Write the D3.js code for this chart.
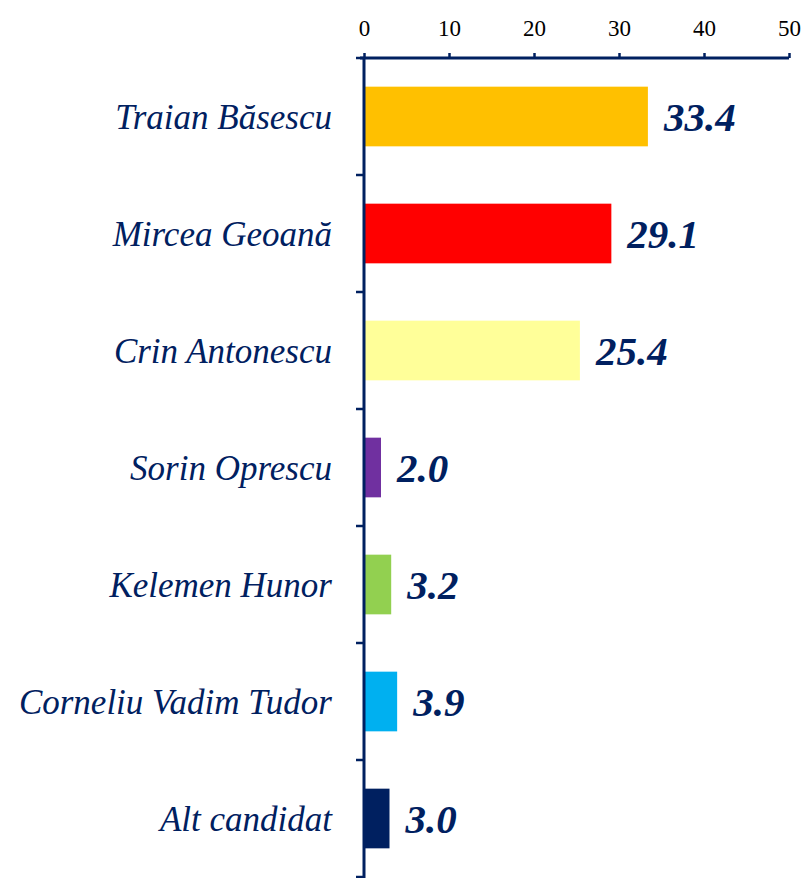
<!DOCTYPE html>
<html>
<head>
<meta charset="utf-8">
<script src="https://cdn.jsdelivr.net/npm/d3@7"></script>
<style>
  html, body { margin: 0; padding: 0; background: #fff; }
  svg { display: block; }
</style>
</head>
<body>
<svg id="chart" width="806" height="878"></svg>
<script>
// Candidates, their shares (%) and bar colours
const candidates = ["Traian Băsescu", "Mircea Geoană", "Crin Antonescu", "Sorin Oprescu", "Kelemen Hunor", "Corneliu Vadim Tudor", "Alt candidat"];
const shares = [33.4, 29.1, 25.4, 2.0, 3.2, 3.9, 3.0];
const barColors = ["#FFC000", "#FF0000", "#FFFF99", "#7030A0", "#92D050", "#00B0F0", "#002060"];
const tickValues = [0, 10, 20, 30, 40, 50];

const navy = "#002060";
const fontFamily = "'Liberation Serif', 'DejaVu Serif', serif";

const svg = d3.select("#chart");
const margin = { top: 58, left: 364, right: 17, bottom: 1 };
const width = 806, height = 878;

const x = d3.scaleLinear().domain([0, 50]).range([margin.left, width - margin.right]);
const y = d3.scaleBand().domain(candidates).range([margin.top, height - margin.bottom]).paddingInner(0.49).paddingOuter(0.245);

const rows = candidates.map((c, i) => ({ name: c, value: shares[i], color: barColors[i] }));

// Bars
svg.append("g").selectAll("rect").data(rows).join("rect")
  .attr("x", x(0))
  .attr("y", d => y(d.name))
  .attr("width", d => x(d.value) - x(0))
  .attr("height", y.bandwidth())
  .attr("fill", d => d.color);

// Top value axis
const xAxis = svg.append("g")
  .attr("transform", `translate(0,${margin.top})`)
  .call(d3.axisTop(x).tickValues(tickValues).tickSize(5).tickPadding(17).tickFormat(d3.format("d")));
xAxis.select(".domain").attr("stroke", navy).attr("stroke-width", 3).attr("d", `M${x(0) - 4},0H${x(50)}`);
xAxis.selectAll(".tick line").attr("stroke", navy).attr("stroke-width", 2.5);
xAxis.selectAll(".tick text").attr("fill", "#000").style("font-family", fontFamily).style("font-size", "23px");

// Category axis (band edges marked with ticks)
const yAxis = svg.append("g").attr("transform", `translate(${x(0)},0)`);
yAxis.append("line")
  .attr("x1", 0).attr("x2", 0)
  .attr("y1", margin.top).attr("y2", height)
  .attr("stroke", navy).attr("stroke-width", 3);
const edges = d3.range(candidates.length + 1).map(i => margin.top + i * (height - margin.bottom - margin.top) / candidates.length);
yAxis.selectAll("line.edge").data(edges).join("line")
  .attr("class", "edge")
  .attr("x1", -8).attr("x2", 0)
  .attr("y1", d => d).attr("y2", d => d)
  .attr("stroke", navy).attr("stroke-width", 2.5);

// Category labels
svg.append("g").selectAll("text").data(rows).join("text")
  .attr("x", x(0) - 32)
  .attr("y", d => y(d.name) + y.bandwidth() / 2)
  .attr("dy", "0.35em")
  .attr("text-anchor", "end")
  .attr("fill", navy)
  .style("font-family", fontFamily)
  .style("font-style", "italic")
  .style("font-size", "35px")
  .text(d => d.name);

// Value labels
svg.append("g").selectAll("text").data(rows).join("text")
  .attr("x", d => x(d.value) + 16)
  .attr("y", d => y(d.name) + y.bandwidth() / 2)
  .attr("dy", "0.35em")
  .attr("fill", navy)
  .style("font-family", fontFamily)
  .style("font-style", "italic")
  .style("font-weight", "bold")
  .style("font-size", "41px")
  .text(d => d.value.toFixed(1));
</script>
</body>
</html>
